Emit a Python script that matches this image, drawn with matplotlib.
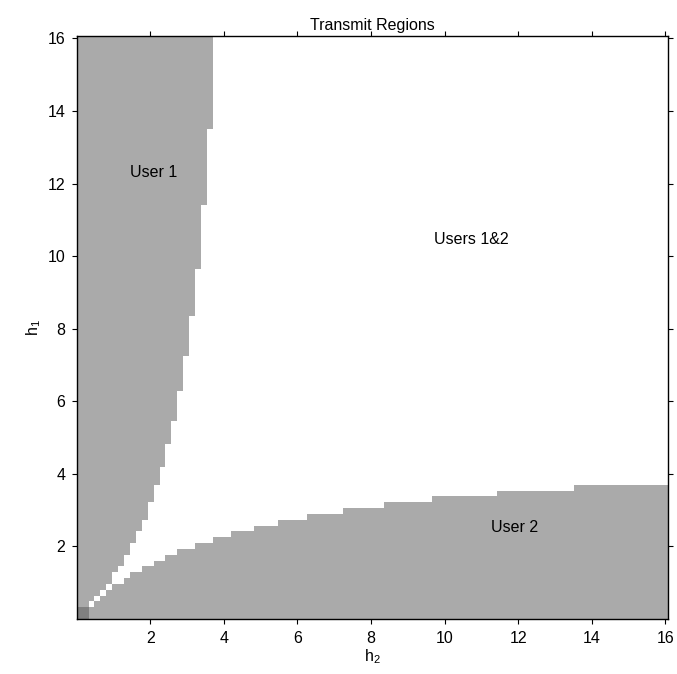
import numpy as np
import matplotlib
matplotlib.use('Agg')
import matplotlib.pyplot as plt
from matplotlib.colors import ListedColormap, BoundaryNorm

plt.rcParams['font.family'] = ['Liberation Sans', 'DejaVu Sans']
plt.rcParams['mathtext.fontset'] = 'custom'
plt.rcParams['mathtext.rm'] = 'Liberation Sans'
plt.rcParams['mathtext.it'] = 'Liberation Sans'

# ---- data: staircase borders ----
# user 2 alone transmits where h1 < u2_h1_limit (for h2 >= u2_h2_start)
u2_h2_start = [0.00, 0.48, 0.64, 0.80, 0.96, 1.29, 1.45, 1.77, 2.09, 2.41, 2.73,
               3.22, 3.70, 4.18, 4.82, 5.47, 6.27, 7.24, 8.36, 9.65, 11.42, 13.51]
u2_h1_limit = [0.32, 0.48, 0.64, 0.80, 0.96, 1.13, 1.29, 1.45, 1.61, 1.77, 1.93,
               2.09, 2.25, 2.41, 2.57, 2.73, 2.89, 3.06, 3.22, 3.38, 3.54, 3.70]
# user 1 alone transmits where h2 < u1_h2_limit (for h1 >= u1_h1_start)
u1_h1_start = [0.00, 0.48, 0.64, 0.80, 0.96, 1.29, 1.45, 1.77, 2.09, 2.41, 2.73,
               3.22, 3.70, 4.18, 4.82, 5.47, 6.27, 7.24, 8.36, 9.65, 11.42, 13.51]
u1_h2_limit = [0.32, 0.48, 0.64, 0.80, 0.96, 1.13, 1.29, 1.45, 1.61, 1.77, 1.93,
               2.09, 2.25, 2.41, 2.57, 2.73, 2.89, 3.06, 3.22, 3.38, 3.54, 3.70]

region_labels = ['User 1', 'Users 1&2', 'User 2']
label_h2 = [2.09, 10.73, 11.9]
label_h1 = [12.3, 10.47, 2.51]
xticks = [2, 4, 6, 8, 10, 12, 14, 16]
yticks = [2, 4, 6, 8, 10, 12, 14, 16]

# ---- grid of channel gains ----
h_max = 16.08
edges = np.linspace(0, h_max, 101)
centers = (edges[:-1] + edges[1:]) / 2
H2, H1 = np.meshgrid(centers, centers)

lim2 = np.array(u2_h1_limit)[np.searchsorted(u2_h2_start, H2, side='right') - 1]
lim1 = np.array(u1_h2_limit)[np.searchsorted(u1_h1_start, H1, side='right') - 1]
only2 = H1 < lim2
only1 = H2 < lim1

region = np.full(H1.shape, 3)      # both users
region[only1] = 1
region[only2] = 2
region[only1 & only2] = 0          # nobody

cmap = ListedColormap(['#808080', '#aaaaaa', '#aaaaaa', '#ffffff'])
norm = BoundaryNorm([-0.5, 0.5, 1.5, 2.5, 3.5], cmap.N)

fig = plt.figure(figsize=(6.77, 6.74), dpi=100)
ax = fig.add_axes([0.1133, 0.0816, 0.8739, 0.8657])
ax.pcolormesh(edges, edges, region, cmap=cmap, norm=norm, shading='flat')

for txt, x, y in zip(region_labels, label_h2, label_h1):
    ax.text(x, y, txt, ha='center', va='center', fontsize=11.5)

ax.set_xlim(0, h_max)
ax.set_ylim(0, h_max)
ax.set_xticks(xticks)
ax.set_yticks(yticks)
ax.tick_params(direction='out', length=3.3, width=0.8, labelsize=11.5,
               top=True, right=True, pad=5)
for sp in ax.spines.values():
    sp.set_linewidth(1.0)

ax.set_xlabel('h$_2$', fontsize=11.5, labelpad=1)
ax.set_ylabel('h$_1$', fontsize=11.5, labelpad=3)
ax.set_title('Transmit Regions', fontsize=11.5, pad=4)

fig.savefig('out.png', dpi=100)
